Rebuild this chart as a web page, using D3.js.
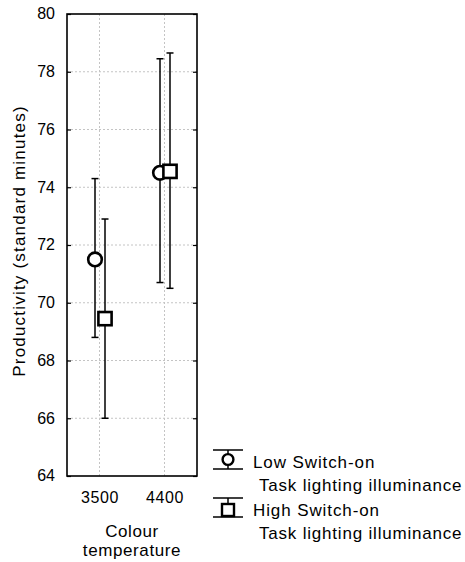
<!DOCTYPE html>
<html>
<head>
<meta charset="utf-8">
<script src="https://cdn.jsdelivr.net/npm/d3@7"></script>
<style>
  body { margin: 0; background: #fff; }
  text { font-family: "Liberation Sans", Arial, sans-serif; fill: #000; }
</style>
</head>
<body>
<svg id="chart" width="465" height="562"></svg>
<script>
// colour temperature vs productivity, mean with error bars

const categories = ["3500", "4400"];
const lowMean = [71.5, 74.5];
const lowUpper = [74.3, 78.45];
const lowLower = [68.8, 70.7];
const highMean = [69.45, 74.55];
const highUpper = [72.9, 78.65];
const highLower = [66.0, 70.5];
const yTicks = [64, 66, 68, 70, 72, 74, 76, 78, 80];
const legendLines = [
  ["Low Switch-on", "Task lighting illuminance"],
  ["High Switch-on", "Task lighting illuminance"]
];

const svg = d3.select("#chart");
const pLeft = 67, pRight = 197, pTop = 14, pBottom = 476;

const x = d3.scalePoint().domain(categories).range([pLeft, pRight]).padding(0.5);
const y = d3.scaleLinear().domain([64, 80]).range([pBottom, pTop]);

// grid
const grid = svg.append("g").attr("stroke", "#c4c4c4").attr("stroke-dasharray", "2,2").attr("stroke-width", 1);
grid.selectAll("line.h").data(yTicks.slice(1, -1)).enter().append("line")
  .attr("x1", pLeft).attr("x2", pRight)
  .attr("y1", d => y(d)).attr("y2", d => y(d));
grid.selectAll("line.v").data(categories).enter().append("line")
  .attr("x1", d => x(d)).attr("x2", d => x(d))
  .attr("y1", pTop).attr("y2", pBottom);

// axes (ticks inside on both sides)
const yAxisL = d3.axisLeft(y).tickValues(yTicks).tickSize(-4).tickPadding(12);
const yAxisR = d3.axisRight(y).tickValues(yTicks).tickSize(-4).tickFormat("");
const gL = svg.append("g").attr("transform", `translate(${pLeft},0)`).call(yAxisL);
const gR = svg.append("g").attr("transform", `translate(${pRight},0)`).call(yAxisR);
[gL, gR].forEach(g => {
  g.select(".domain").remove();
  g.selectAll(".tick line").attr("stroke", "#000").attr("stroke-width", 1.2);
});
gL.selectAll(".tick text").attr("font-size", 16).attr("dy", "0.3em")
  .style("font-family", "Liberation Sans, Arial, sans-serif").attr("fill", "#000");

const xAxis = d3.axisBottom(x).tickSize(0).tickPadding(16);
const gX = svg.append("g").attr("transform", `translate(0,${pBottom})`).call(xAxis);
gX.select(".domain").remove();
gX.selectAll(".tick text").attr("font-size", 16).attr("dy", "0.71em").attr("letter-spacing", 0.6)
  .style("font-family", "Liberation Sans, Arial, sans-serif").attr("fill", "#000");

// frame
svg.append("rect").attr("x", pLeft).attr("y", pTop)
  .attr("width", pRight - pLeft).attr("height", pBottom - pTop)
  .attr("fill", "none").attr("stroke", "#000").attr("stroke-width", 1.6);

// axis titles
svg.append("text").attr("transform", `translate(25,${241}) rotate(-90)`)
  .attr("text-anchor", "middle").attr("font-size", 17).attr("letter-spacing", 1.2)
  .text("Productivity (standard minutes)");
svg.append("text").attr("x", (pLeft + pRight) / 2).attr("y", 537)
  .attr("text-anchor", "middle").attr("font-size", 17).attr("letter-spacing", 0.6)
  .text("Colour");
svg.append("text").attr("x", (pLeft + pRight) / 2).attr("y", 556)
  .attr("text-anchor", "middle").attr("font-size", 17).attr("letter-spacing", 0.6)
  .text("temperature");

// series
const series = [
  {mean: lowMean, upper: lowUpper, lower: lowLower, dx: -4.5, shape: "circle"},
  {mean: highMean, upper: highUpper, lower: highLower, dx: 5.5, shape: "square"}
];
const cap = 3.5;

series.forEach(s => {
  const g = svg.append("g");
  const pts = categories.map((c, i) => ({c, m: s.mean[i], hi: s.upper[i], lo: s.lower[i]}));
  const px = d => x(d.c) + s.dx;
  g.selectAll("line.bar").data(pts).enter().append("line")
    .attr("x1", px).attr("x2", px)
    .attr("y1", d => y(d.hi)).attr("y2", d => y(d.lo))
    .attr("stroke", "#000").attr("stroke-width", 1.5);
  ["hi", "lo"].forEach(k => {
    g.selectAll("line.cap" + k).data(pts).enter().append("line")
      .attr("x1", d => px(d) - cap).attr("x2", d => px(d) + cap)
      .attr("y1", d => y(d[k])).attr("y2", d => y(d[k]))
      .attr("stroke", "#000").attr("stroke-width", 1.5);
  });
  if (s.shape === "circle") {
    g.selectAll("circle").data(pts).enter().append("circle")
      .attr("cx", px).attr("cy", d => y(d.m)).attr("r", 6.8)
      .attr("fill", "#fff").attr("stroke", "#000").attr("stroke-width", 2.6);
  } else {
    g.selectAll("rect").data(pts).enter().append("rect")
      .attr("x", d => px(d) - 6.6).attr("y", d => y(d.m) - 6.6)
      .attr("width", 13.2).attr("height", 13.2)
      .attr("fill", "#fff").attr("stroke", "#000").attr("stroke-width", 2.6);
  }
});

// legend
const legend = svg.append("g");
legendLines.forEach((lines, i) => {
  const g = legend.append("g").attr("transform", `translate(0,${i * 48})`);
  const cx = 228, yTop = 450, yBot = 469;
  g.append("line").attr("x1", 213).attr("x2", 243).attr("y1", yTop).attr("y2", yTop)
    .attr("stroke", "#000").attr("stroke-width", 1.5);
  g.append("line").attr("x1", 213).attr("x2", 243).attr("y1", yBot).attr("y2", yBot)
    .attr("stroke", "#000").attr("stroke-width", 1.5);
  g.append("line").attr("x1", cx).attr("x2", cx).attr("y1", yTop).attr("y2", yBot)
    .attr("stroke", "#000").attr("stroke-width", 1.5);
  if (i === 0) {
    g.append("circle").attr("cx", cx).attr("cy", 459.5).attr("r", 5.4)
      .attr("fill", "#fff").attr("stroke", "#000").attr("stroke-width", 2.4);
  } else {
    g.append("rect").attr("x", cx - 6).attr("y", yTop + 6).attr("width", 12).attr("height", 12)
      .attr("fill", "#fff").attr("stroke", "#000").attr("stroke-width", 2.4);
  }
  g.append("text").attr("x", 253).attr("y", 468).attr("font-size", 17).attr("letter-spacing", 0.9)
    .text(lines[0]);
  g.append("text").attr("x", 259).attr("y", 491).attr("font-size", 17).attr("letter-spacing", 0.8)
    .text(lines[1]);
});
</script>
</body>
</html>
